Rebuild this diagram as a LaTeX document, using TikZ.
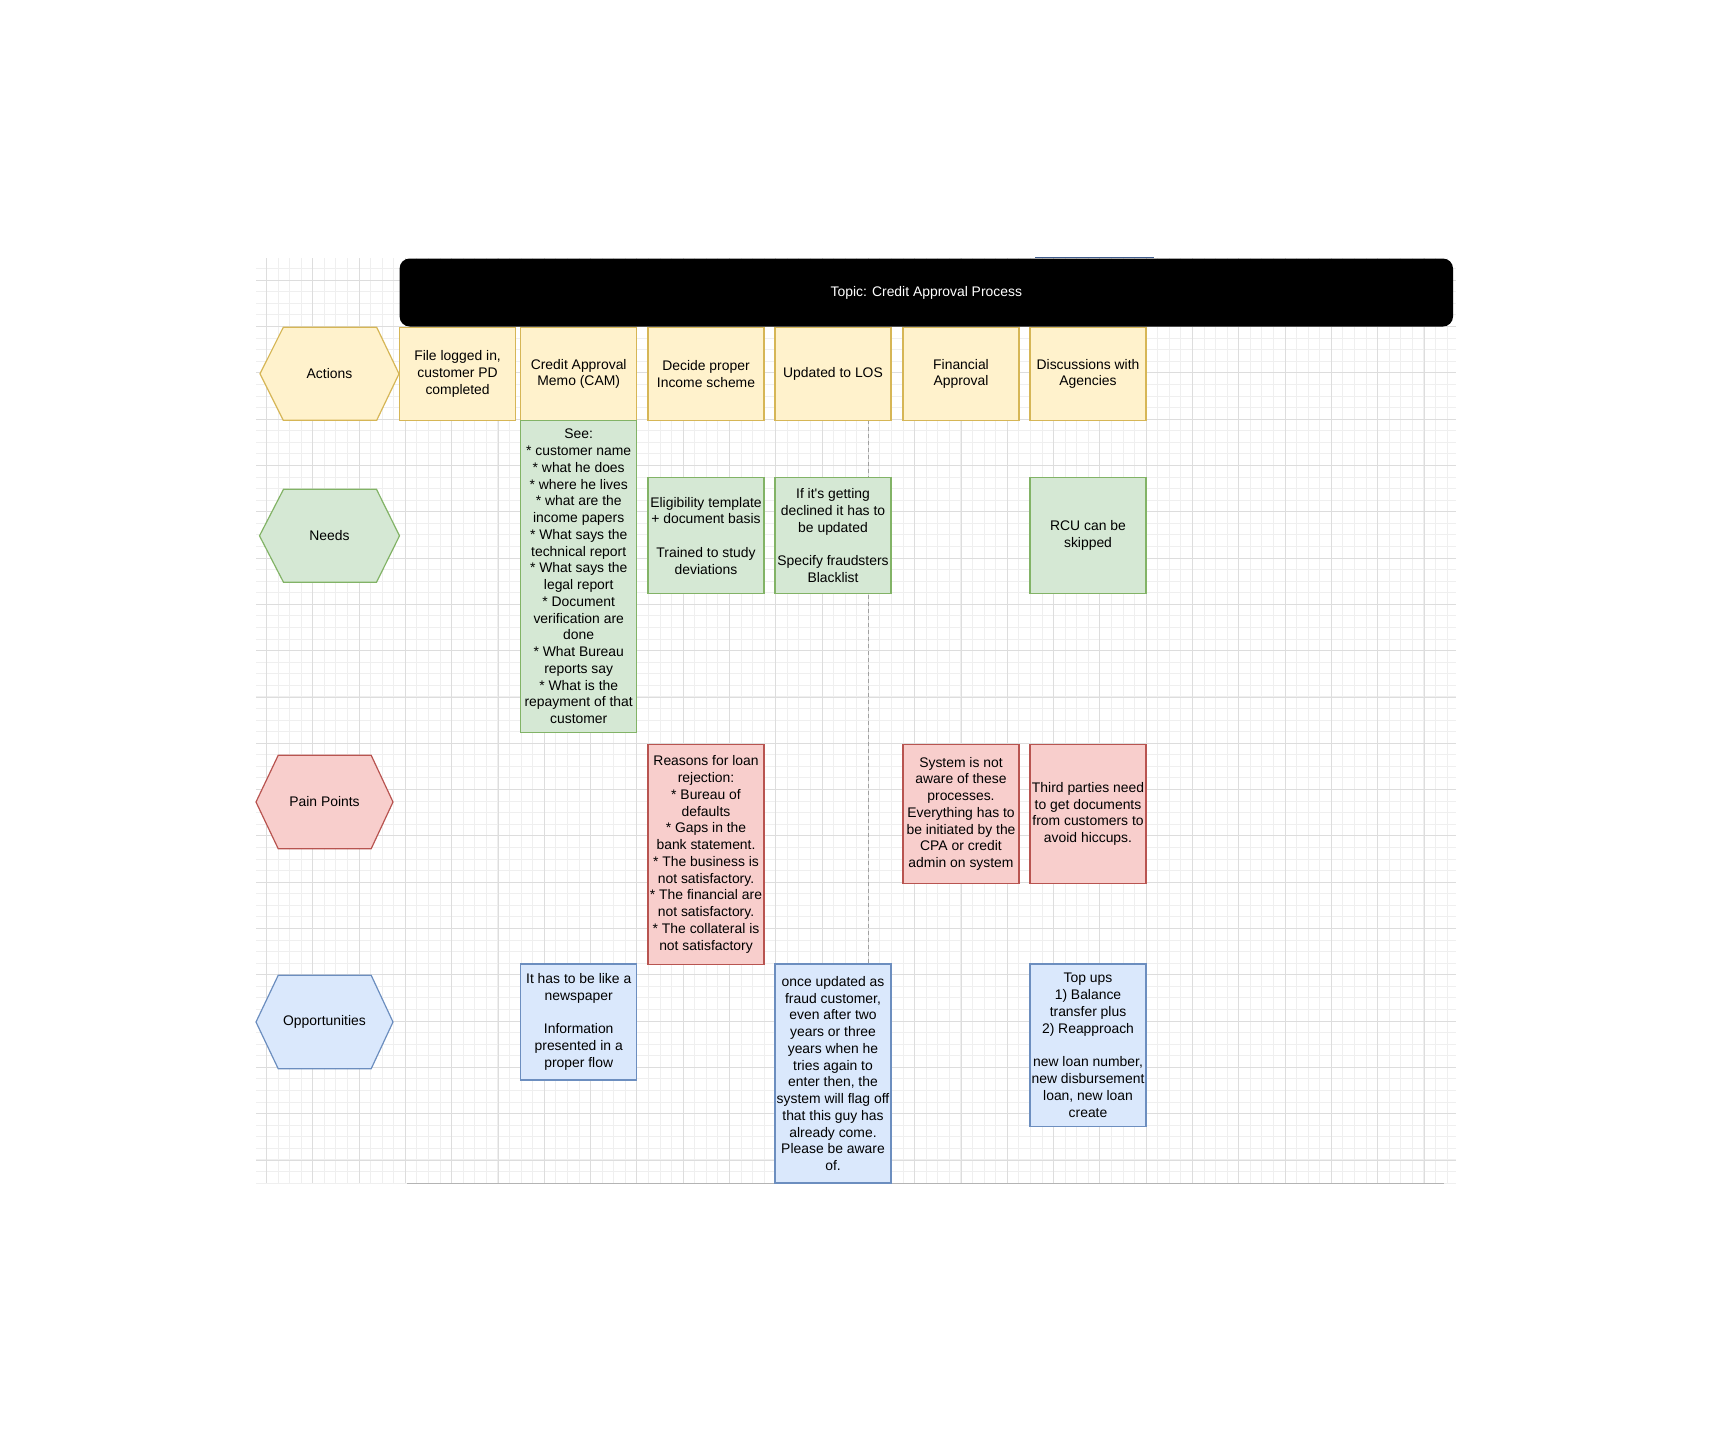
\documentclass[tikz,border=0pt]{standalone}
\usepackage{fontspec}
\setmainfont{Liberation Sans}[Ligatures=TeXOff]
\definecolor{yfill}{HTML}{FFF2CC}
\definecolor{ystroke}{HTML}{D6B656}
\definecolor{gfill}{HTML}{D5E8D4}
\definecolor{gstroke}{HTML}{82B366}
\definecolor{rfill}{HTML}{F8CECC}
\definecolor{rstroke}{HTML}{B85450}
\definecolor{bfill}{HTML}{DAE8FC}
\definecolor{bstroke}{HTML}{6C8EBF}
\definecolor{gridminor}{HTML}{EFEFEF}
\definecolor{gridmajor}{HTML}{DDDDDD}
\definecolor{edgegray}{HTML}{B4B4B4}
\definecolor{dashgray}{HTML}{A0A0A0}
\definecolor{topblue}{HTML}{3C5A8C}
\begin{document}
\begin{tikzpicture}[x=0.5pt,y=-0.5pt,
  txt/.style={font=\fontsize{6.95}{8.38}\selectfont, align=center, inner sep=0pt, text=black},
  box/.style={txt, draw, line width=0.6pt, minimum width=58pt},
  ybox/.style={box, draw=ystroke, fill=yfill},
  gbox/.style={box, draw=gstroke, fill=gfill},
  rbox/.style={box, draw=rstroke, fill=rfill},
  bbox/.style={box, draw=bstroke, fill=bfill},
  yhex/.style={draw=ystroke, fill=yfill, line width=0.6pt},
  ghex/.style={draw=gstroke, fill=gfill, line width=0.6pt},
  rhex/.style={draw=rstroke, fill=rfill, line width=0.6pt},
  bhex/.style={draw=bstroke, fill=bfill, line width=0.6pt},
  gminor/.style={draw=gridminor, line width=0.5pt},
  gmajor/.style={draw=gridmajor, line width=0.5pt},
  topicbar/.style={fill=black, rounded corners=5pt, minimum width=526.7pt, minimum height=34pt,
    inner sep=0pt, text=white, font=\fontsize{6.95}{8.38}\selectfont},
  sepline/.style={draw=dashgray, line width=0.5pt, dash pattern=on 2pt off 1.5pt}
]
\useasboundingbox (0,0) rectangle (1712,1440);

% grid (snapped to whole pixels)
\foreach \j in {0,...,102} {
  \pgfmathsetmacro{\gx}{round(266+11.575*\j)+0.5}
  \draw[gminor] (\gx,258) -- (\gx,1183);
}
\foreach \j in {0,...,79} {
  \pgfmathsetmacro{\gy}{round(268.2+11.575*\j)+0.5}
  \draw[gminor] (256,\gy) -- (1456,\gy);
}
\foreach \j in {0,...,25} {
  \pgfmathsetmacro{\gx}{round(266+46.3*\j)+0.5}
  \draw[gmajor] (\gx,258) -- (\gx,1183);
}
\foreach \j in {0,...,19} {
  \pgfmathsetmacro{\gy}{round(279.8+46.3*\j)+0.5}
  \draw[gmajor] (256,\gy) -- (1456,\gy);
}
\coordinate (bl) at (407,1183.5);
\coordinate (br) at (1444,1183.5);
\draw[draw=edgegray, line width=0.6pt] (bl) -- (br);

% dashed separator
\coordinate (dtop) at (868.5,420.3);
\coordinate (dbot) at (868.5,964);
\draw[sepline] (dtop) -- (dbot);

% title bar
\node[topicbar] (topic) at (926.3,292.5) {Topic: Credit Approval Process};
\coordinate (tba) at (1035,257.8);
\coordinate (tbb) at (1154,257.8);
\draw[draw=topblue, line width=0.4pt] (tba) -- (tbb);

% row labels (hexagons)
\draw[yhex] (260,373.8) -- (283.3,327.3) -- (376.7,327.3) -- (399,373.8) -- (376.7,420.3) -- (283.3,420.3) -- cycle;
\node[txt] (actions) at (329.5,373.8) {Actions};
\draw[ghex] (259.5,535.8) -- (283.5,489.3) -- (376.5,489.3) -- (399.5,535.8) -- (376.5,582.3) -- (283.5,582.3) -- cycle;
\node[txt] (needs) at (329.5,535.8) {Needs};
\draw[rhex] (256,802) -- (278.2,755.3) -- (371.2,755.3) -- (393,802) -- (371.2,848.7) -- (278.2,848.7) -- cycle;
\node[txt] (pain) at (324.5,802) {Pain Points};
\draw[bhex] (256,1022) -- (278.2,975.3) -- (371.2,975.3) -- (393,1022) -- (371.2,1068.7) -- (278.2,1068.7) -- cycle;
\node[txt] (opps) at (324.5,1022) {Opportunities};

% actions
\node[ybox, minimum height=46.5pt] (a1) at (457.6,373.8) {File logged in,\\customer PD\\completed};
\node[ybox, minimum height=46.5pt] (a2) at (578.7,373.8) {Credit Approval\\Memo (CAM)};
\node[ybox, minimum height=46.5pt] (a3) at (706,373.8) {Decide proper\\Income scheme};
\node[ybox, minimum height=46.5pt] (a4) at (833,373.8) {Updated to LOS};
\node[ybox, minimum height=46.5pt] (a5) at (961,373.8) {Financial\\Approval};
\node[ybox, minimum height=46.5pt] (a6) at (1088,373.8) {Discussions with\\Agencies};

% needs
\node[gbox, minimum height=156.2pt] (n2) at (578.7,576.5) {See:\\* customer name\\* what he does\\* where he lives\\* what are the\\income papers\\* What says the\\technical report\\* What says the\\legal report\\* Document\\verification are\\done\\* What Bureau\\reports say\\* What is the\\repayment of that\\customer};
\node[gbox, minimum height=58.15pt] (n3) at (706,535.6) {Eligibility template\\+ document basis\\[8.38pt]Trained to study\\deviations};
\node[gbox, minimum height=58.15pt] (n4) at (833,535.6) {If it's getting\\declined it has to\\be updated\\[8.38pt]Specify fraudsters\\Blacklist};
\node[gbox, minimum height=58.15pt] (n6) at (1088,535.6) {RCU can be\\skipped};

% pain points
\node[rbox, minimum height=110pt] (p3) at (706,854.3) {Reasons for loan\\rejection:\\* Bureau of\\defaults\\* Gaps in the\\bank statement.\\* The business is\\not satisfactory.\\* The financial are\\not satisfactory.\\* The collateral is\\not satisfactory};
\node[rbox, minimum height=69.5pt] (p5) at (961,813.8) {System is not\\aware of these\\processes.\\Everything has to\\be initiated by the\\CPA or credit\\admin on system};
\node[rbox, minimum height=69.5pt] (p6) at (1088,813.8) {Third parties need\\to get documents\\from customers to\\avoid hiccups.};

% opportunities
\node[bbox, minimum height=58pt] (o2) at (578.7,1022) {It has to be like a\\newspaper\\[8.38pt]Information\\presented in a\\proper flow};
\node[bbox, minimum height=109.5pt] (o4) at (833,1073.5) {once updated as\\fraud customer,\\even after two\\years or three\\years when he\\tries again to\\enter then, the\\system will flag off\\that this guy has\\already come.\\Please be aware\\of.};
\node[bbox, minimum height=81.25pt] (o6) at (1088,1045.3) {Top ups\\1) Balance\\transfer plus\\2) Reapproach\\[8.38pt]new loan number,\\new disbursement\\loan, new loan\\create};
\end{tikzpicture}
\end{document}
